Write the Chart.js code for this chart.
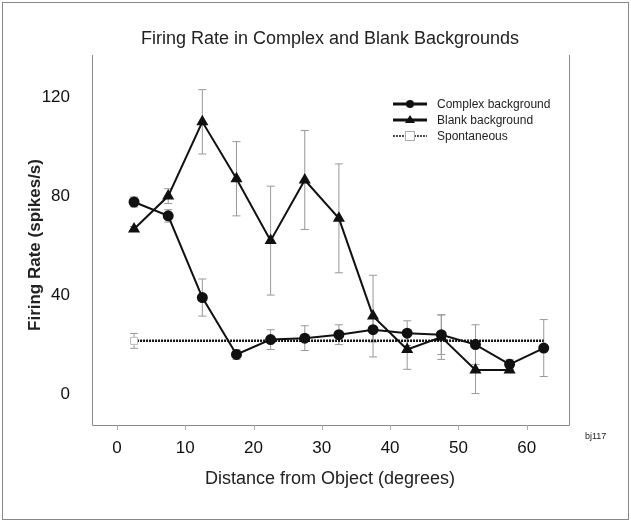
<!DOCTYPE html><html><head><style>html,body{margin:0;background:#fff}#w{width:631px;height:522px}</style>
<script src="https://cdn.jsdelivr.net/npm/chart.js@4"></script></head><body><div id="w"><canvas id="c"></canvas></div>
<script>
const xs=[2.5,7.5,12.5,17.5,22.5,27.5,32.5,37.5,42.5,47.5,52.5,57.5,62.5];
const complexY=[77.6,72,39,16,22,22.6,24,26,24.6,24,20,12,18.6];
const complexErr=[2,2.5,7.5,2,4,5,4,5,5,8,8,2,11.5];
const blankY=[66.7,80,110,87,62,86.5,71,31.5,18,23,9.7,9.7];
const blankErr=[1,3,13,15,22,20,22,16.5,8,9,9.5,1];
const spontX=[2.5,62.5];
const spontY=[21.5,21.5];
const spontErr=[3,0];
const yTicks=[0,40,80,120];
const xTicks=[0,10,20,30,40,50,60];
const pts=(x,y)=>y.map((v,i)=>({x:x[i],y:v}));
const errPlugin={id:'err',beforeDatasetsDraw(ch){const c=ch.ctx,xs_=ch.scales.x,ys=ch.scales.y;c.save();c.strokeStyle='#999';c.lineWidth=1;
 const draw=(X,Y,E)=>Y.forEach((v,i)=>{if(!E[i])return;const px=xs_.getPixelForValue(X[i]),a=ys.getPixelForValue(v-E[i]),b=ys.getPixelForValue(v+E[i]);c.beginPath();c.moveTo(px,a);c.lineTo(px,b);c.moveTo(px-4,a);c.lineTo(px+4,a);c.moveTo(px-4,b);c.lineTo(px+4,b);c.stroke();});
 draw(xs,complexY,complexErr);draw(xs,blankY,blankErr);draw(spontX,spontY,spontErr);c.restore();},
 afterDraw(ch){const c=ch.ctx,a=ch.chartArea,sx=ch.scales.x;c.save();c.strokeStyle='#888';c.lineWidth=1;c.strokeRect(2.5,2.5,626,517);
 c.beginPath();c.moveTo(a.left+.5,a.top);c.lineTo(a.left+.5,a.bottom+.5);c.lineTo(a.right+.5,a.bottom+.5);c.lineTo(a.right+.5,a.top);c.stroke();
 c.strokeStyle='#aaa';xTicks.forEach(v=>{const p=Math.round(sx.getPixelForValue(v))+.5;c.beginPath();c.moveTo(p,a.bottom);c.lineTo(p,a.bottom+5);c.stroke();});
 c.fillStyle='#222';c.textAlign='center';c.font='18px Arial, Liberation Sans';c.fillText('Firing Rate in Complex and Blank Backgrounds',330,44);
 c.fillText('Distance from Object (degrees)',330,484);
 c.save();c.translate(40,245);c.rotate(-Math.PI/2);c.font='bold 17px Arial, Liberation Sans';c.fillText('Firing Rate (spikes/s)',0,0);c.restore();
 c.font='9px Arial, Liberation Sans';c.textAlign='left';c.fillText('bj117',585,439);
 const L=[['Complex background','circle',3],['Blank background','triangle',3],['Spontaneous','rect',1.5]];
 L.forEach((l,i)=>{const y=104+i*16;c.strokeStyle='#111';c.lineWidth=l[2];if(l[1]=='rect')c.setLineDash([2,1]);c.beginPath();c.moveTo(393,y);c.lineTo(427,y);c.stroke();c.setLineDash([]);
  c.fillStyle='#111';c.beginPath();if(l[1]=='circle'){c.arc(410,y,4,0,7);c.fill();}else if(l[1]=='triangle'){c.moveTo(410,y-5);c.lineTo(415,y+3);c.lineTo(405,y+3);c.fill();}else{c.fillStyle='#fff';c.strokeStyle='#aaa';c.lineWidth=1;c.fillRect(405,y-5,10,10);c.strokeRect(405.5,y-4.5,9,9);}
  c.fillStyle='#222';c.font='12px Arial, Liberation Sans';c.fillText(l[0],437,y+4);});
 c.restore();}};
new Chart(document.getElementById('c'),{type:'line',data:{datasets:[
 {data:pts(xs,complexY),borderColor:'#111',backgroundColor:'#111',borderWidth:2,pointStyle:'circle',pointRadius:4.5},
 {data:pts(xs,blankY),borderColor:'#111',backgroundColor:'#111',borderWidth:2,pointStyle:'triangle',pointRadius:5},
 {data:pts(spontX,spontY),borderColor:'#111',borderWidth:2.5,borderDash:[2,1],pointStyle:['rect',false],pointRadius:[5,0],backgroundColor:'#fff',pointBorderColor:'#bbb',pointBorderWidth:1}
]},plugins:[errPlugin],options:{responsive:true,maintainAspectRatio:false,animation:false,
 layout:{padding:{top:55,right:62,left:0,bottom:0}},
 plugins:{legend:{display:false},tooltip:{enabled:false}},
 scales:{x:{type:'linear',min:-3.66,max:66.2,afterBuildTicks:s=>{s.ticks=xTicks.map(v=>({value:v}))},grid:{display:false},border:{display:false},ticks:{color:'#111',font:{size:17,family:'Arial'},padding:5},afterFit:s=>{s.height=97}},
 y:{min:-12.5,max:137,afterBuildTicks:s=>{s.ticks=yTicks.map(v=>({value:v}))},grid:{display:false},border:{display:false},ticks:{color:'#111',font:{size:17,family:'Arial'},padding:14},afterFit:s=>{s.width=92}}}}});
</script></body></html>
